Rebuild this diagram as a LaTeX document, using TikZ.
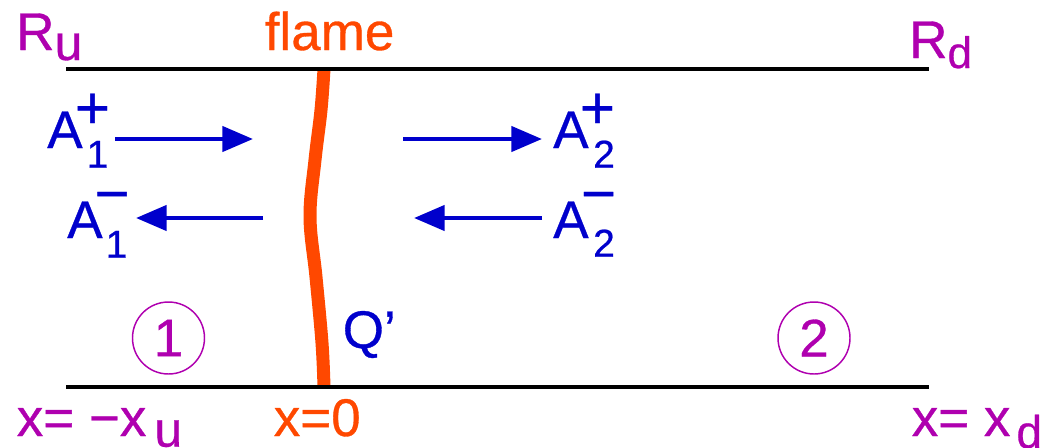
\documentclass[tikz,border=0pt]{standalone}
\usepackage{fontspec}
\setmainfont{Liberation Sans}[FakeBold=0.6]
\usetikzlibrary{arrows.meta}
\definecolor{mag}{RGB}{175,0,175}
\definecolor{flm}{RGB}{255,72,0}
\definecolor{blu}{RGB}{0,0,204}
\newcommand\szmain{\fontsize{39.75pt}{40pt}\selectfont}
\newcommand\szsub{\fontsize{29.25pt}{30pt}\selectfont}
\newcommand\szpm{\fontsize{45pt}{46pt}\selectfont}
\tikzset{
  lab/.style={inner sep=0pt, anchor=base west, font=\szmain},
  subdig/.style={inner sep=0pt, anchor=south, font=\szsub, text=blu},
  pm/.style={inner sep=0pt, anchor=center, font=\szpm, text=blu},
  arr/.style={blu, line width=3.3pt, -{Triangle[length=23pt,width=18.75pt]}},
  wall/.style={black, line width=3pt},
  zone/.style={draw=mag, text=mag, line width=1.1pt, circle, minimum size=54pt, inner sep=0pt, font=\szmain},
  flamestyle/.style={flm, line width=9.75pt}
}
\begin{document}
\begin{tikzpicture}[x=0.75pt,y=-0.75pt]
\useasboundingbox (0,0) rectangle (1048,447);
% flame
\draw[flamestyle] plot[smooth, tension=0.6] coordinates {(324,69) (321,110) (315,160) (310,217) (316,277) (322,343) (324,387)};
% walls
\coordinate (tl) at (66,69);
\coordinate (tr) at (929,69);
\coordinate (bl) at (66,387);
\coordinate (br) at (929,387);
\draw[wall] (tl) -- (tr);
\draw[wall] (bl) -- (br);
% top labels
\node[lab, text=mag] (Ru) at (16,50) {R\raisebox{-7.5pt}{\fontsize{37.5pt}{38pt}\selectfont u}};
\node[lab, text=mag] (Rd) at (909,58) {R\raisebox{-7.5pt}{\fontsize{33pt}{34pt}\selectfont d}};
\node[lab, text=flm] (flame) at (264.5,50) {flame};
% wave amplitudes
\node[lab, text=blu] (A1p) at (47,148) {A};
\node[subdig] (A1ps) at (97.5,168) {1};
\node[pm] (A1pp) at (92.5,111) {+};
\node[lab, text=blu] (A1m) at (67,238) {A};
\node[subdig] (A1ms) at (116.5,258) {1};
\node[pm] (A1mm) at (112,203) {−};
\node[lab, text=blu] (A2p) at (553,148) {A};
\node[subdig] (A2ps) at (604,168) {2};
\node[pm] (A2pp) at (597.5,111) {+};
\node[lab, text=blu] (A2m) at (553,238) {A};
\node[subdig] (A2ms) at (604,257) {2};
\node[pm] (A2mm) at (598.5,203) {−};
% arrows
\coordinate (a1ps) at (115,139); \coordinate (a1pe) at (253,139);
\coordinate (a1ms) at (263,218); \coordinate (a1me) at (136,218);
\coordinate (a2ps) at (403,139); \coordinate (a2pe) at (542,139);
\coordinate (a2ms) at (542,218); \coordinate (a2me) at (414,218);
\draw[arr] (a1ps) -- (a1pe);
\draw[arr] (a1ms) -- (a1me);
\draw[arr] (a2ps) -- (a2pe);
\draw[arr] (a2ms) -- (a2me);
% Q'
\node[lab, text=blu] (Q) at (342.5,348) {Q’};
% zones
\node[zone] (z1) at (168.5,338) {1};
\node[zone] (z2) at (814,338) {2};
% bottom labels
\node[lab, text=mag] (xu) at (16.5,436) {x= −x\kern6pt\raisebox{-8pt}{\fontsize{37.5pt}{38pt}\selectfont u}};
\node[lab, text=flm] (x0) at (273.5,436) {x=0};
\node[lab, text=mag] (xd) at (911.5,436) {x= x\kern4.5pt\raisebox{-9pt}{\fontsize{34.5pt}{35pt}\selectfont d}};
\end{tikzpicture}
\end{document}
